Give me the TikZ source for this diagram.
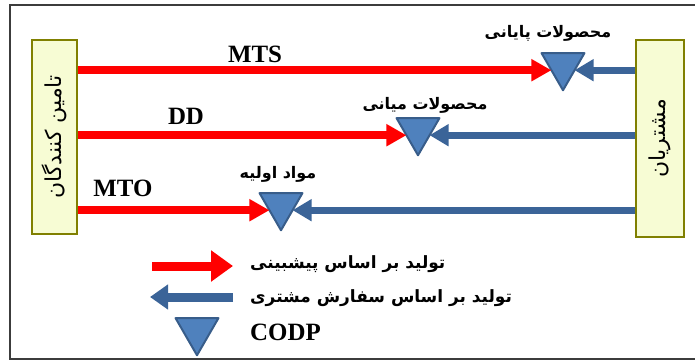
\documentclass[tikz,border=0pt]{standalone}
\usepackage{fontspec}
\usetikzlibrary{arrows.meta,shapes.geometric,calc}
\TeXXeTstate=1
\newfontfamily\fa[Script=Arabic]{DejaVu Sans}
\newfontfamily\lat{Liberation Serif}
\definecolor{boxfill}{RGB}{247,252,212}
\definecolor{boxline}{RGB}{128,128,0}
\definecolor{arrblue}{RGB}{59,100,152}
\definecolor{trifill}{RGB}{79,129,189}
\definecolor{triline}{RGB}{56,93,138}
\definecolor{framecol}{RGB}{60,60,60}
\tikzset{
  partybox/.style={draw=boxline, fill=boxfill, line width=2.5bp, inner sep=0pt},
  codp/.style={regular polygon, regular polygon sides=3, shape border rotate=180,
    fill=trifill, draw=triline, line width=2bp, line join=round,
    minimum size=49.5bp, inner sep=0pt, outer sep=0pt},
  pushline/.style={draw=red, line width=8bp, -{Triangle[length=20bp,width=21bp]}},
  pullline/.style={draw=arrblue, line width=7bp, -{Triangle[length=19bp,width=21bp]}},
  boxtext/.style={font=\fa\fontsize{22}{24}\selectfont, rotate=90},
  falabel/.style={font=\fa\bfseries\fontsize{16}{18}\selectfont, inner sep=0pt},
  legtext/.style={font=\fa\bfseries\fontsize{17}{19}\selectfont, inner sep=0pt, anchor=west},
  latlabel/.style={font=\lat\bfseries\fontsize{25}{28}\selectfont, inner sep=0pt},
}
\begin{document}
\begin{tikzpicture}[x=1bp,y=-1bp]
\useasboundingbox (0,0) rectangle (695,361);
% frame
\draw[framecol, line width=2bp] (698,5) -- (10,5) -- (10,359) -- (698,359);
% boxes
\node[partybox, minimum width=45bp, minimum height=194bp] (sup) at (54.5,137) {};
\node[boxtext] at (sup) {\beginR تامین کنندگان\endR};
\node[partybox, minimum width=48bp, minimum height=197bp] (cust) at (660,138.5) {};
\node[boxtext] at (cust) {\beginR مشتریان\endR};
% triangles
\node[codp] (t1) at (563,65.5) {};
\node[codp] (t2) at (418,130.5) {};
\node[codp] (t3) at (281,205.5) {};
\node[codp] (tl) at (197,330.5) {};
% contact points
\coordinate (p1) at ($(t1.corner 3)!0.46!(t1.corner 1)$);
\coordinate (q1) at ($(t1.corner 2)!0.46!(t1.corner 1)$);
\coordinate (p2) at ($(t2.corner 3)!0.46!(t2.corner 1)$);
\coordinate (q2) at ($(t2.corner 2)!0.46!(t2.corner 1)$);
\coordinate (p3) at ($(t3.corner 3)!0.46!(t3.corner 1)$);
\coordinate (q3) at ($(t3.corner 2)!0.46!(t3.corner 1)$);
% arrows
\draw[pushline] (sup.east |- p1) -- (p1);
\draw[pullline] (cust.west |- q1) -- (q1);
\draw[pushline] (sup.east |- p2) -- (p2);
\draw[pullline] (cust.west |- q2) -- (q2);
\draw[pushline] (sup.east |- p3) -- (p3);
\draw[pullline] (cust.west |- q3) -- (q3);
% labels
\node[latlabel] (mts) at (255,54) {MTS};
\node[latlabel] (dd) at (186,116) {DD};
\node[latlabel] (mto) at (123,188) {MTO};
\node[falabel] (l1) at (548,33) {\beginR محصولات پایانی\endR};
\node[falabel] (l2) at (425,105) {\beginR محصولات میانی\endR};
\node[falabel] (l3) at (278,174) {\beginR مواد اولیه\endR};
% legend
\coordinate (lr1) at (152,266);
\coordinate (lr2) at (233,266);
\coordinate (lb1) at (233,297);
\coordinate (lb2) at (150,297);
\draw[draw=red, line width=9bp, -{Triangle[length=22bp,width=30bp]}] (lr1) -- (lr2);
\draw[draw=arrblue, line width=9bp, -{Triangle[length=18bp,width=24bp]}] (lb1) -- (lb2);
\node[legtext] (g1) at (250,264) {\beginR تولید بر اساس پیشبینی\endR};
\node[legtext] (g2) at (250,298) {\beginR تولید بر اساس سفارش مشتری\endR};
\node[latlabel, anchor=west] (g3) at (250,332) {CODP};
\end{tikzpicture}
\end{document}
